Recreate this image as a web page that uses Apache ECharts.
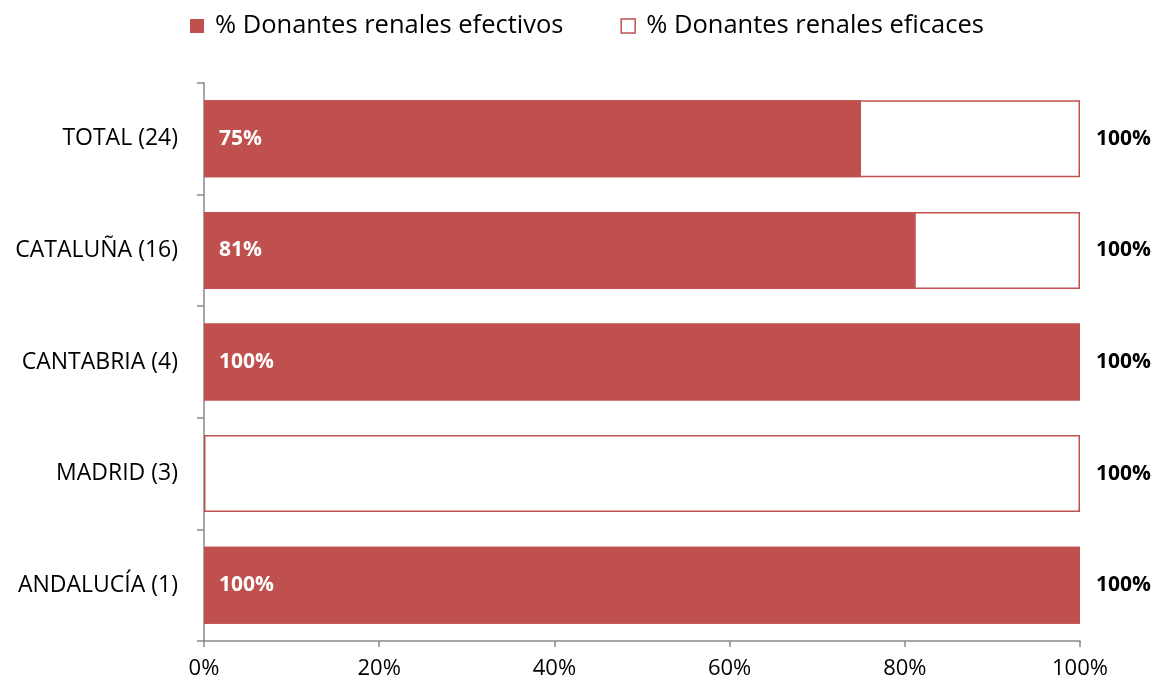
<!DOCTYPE html>
<html><head><meta charset="utf-8">
<script src="https://cdn.jsdelivr.net/npm/echarts@6/dist/echarts.min.js"></script>
<style>html,body{margin:0;padding:0;background:#fff}#c{width:1154px;height:688px}</style>
</head><body><div id="c"></div>
<script>
const categories = ['ANDALUCÍA (1)', 'MADRID (3)', 'CANTABRIA (4)', 'CATALUÑA (16)', 'TOTAL (24)'];
const efectivos = [100, 0, 100, 81.25, 75];
const eficaces = [100, 100, 100, 100, 100];
const xTicks = [0, 20, 40, 60, 80, 100];
const seriesNames = ['% Donantes renales efectivos', '% Donantes renales eficaces'];

const red = '#C0504D';
const font = '"Open Sans", sans-serif';
const chart = echarts.init(document.getElementById('c'));
chart.setOption({
  animation: false,
  legend: {
    top: 8, left: 185, itemGap: 57, itemWidth: 14, itemHeight: 14,
    data: [
      { name: seriesNames[0], icon: 'rect' },
      { name: seriesNames[1], icon: 'rect', itemStyle: { color: '#fff', borderColor: red, borderWidth: 1.5 } }
    ],
    textStyle: { fontFamily: font, fontSize: 25.5, color: '#000', padding: [0, 0, 0, 6] }
  },
  grid: { left: 204, right: 74, top: 83, bottom: 47, containLabel: false },
  xAxis: {
    type: 'value', min: 0, max: 100, interval: 20,
    axisLine: { show: true, lineStyle: { color: '#898989', width: 1.5 } },
    axisTick: { show: true, length: 6, lineStyle: { color: '#898989', width: 1.5 } },
    splitLine: { show: false },
    axisLabel: { fontFamily: font, fontSize: 22, color: '#000', margin: 17,
      formatter: v => xTicks.includes(v) ? v + '%' : '' }
  },
  yAxis: {
    type: 'category', data: categories,
    axisLine: { show: true, lineStyle: { color: '#898989', width: 1.5 } },
    axisTick: { show: true, length: 7, lineStyle: { color: '#898989', width: 1.5 } },
    axisLabel: { fontFamily: font, fontSize: 23, color: '#000', margin: 26 }
  },
  series: [
    {
      name: seriesNames[1], type: 'bar', data: eficaces, barCategoryGap: '31%', z: 1,
      itemStyle: { color: '#fff', borderColor: red, borderWidth: 1.5 },
      label: { show: true, position: 'right', distance: 16, fontFamily: font, fontWeight: 'bold',
        fontSize: 21, color: '#000', formatter: p => Math.round(p.value) + '%' }
    },
    {
      name: seriesNames[0], type: 'bar', data: efectivos, barGap: '-100%', barCategoryGap: '31%', z: 2,
      itemStyle: { color: red },
      label: { show: true, position: 'insideLeft', distance: 15, fontFamily: font, fontWeight: 'bold',
        fontSize: 21, color: '#fff', formatter: p => p.value > 0 ? Math.round(p.value) + '%' : '' }
    }
  ]
});
</script></body></html>
